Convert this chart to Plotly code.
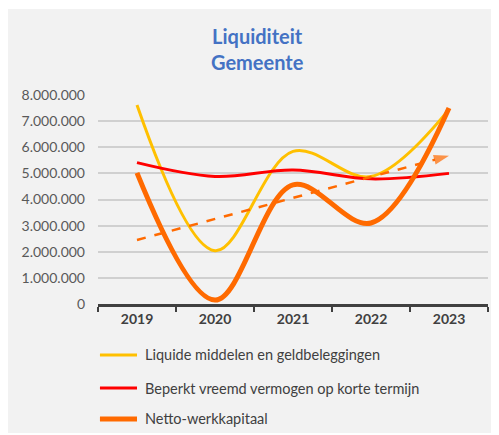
import plotly.graph_objects as go

years = ["2019", "2020", "2021", "2022", "2023"]
liquide = [7620000, 2040000, 5840000, 4880000, 7450000]
beperkt = [5410000, 4880000, 5130000, 4790000, 5000000]
netto = [5020000, 150000, 4560000, 3100000, 7500000]
trend_years = ["2019", "2023"]
trend_values = [2450000, 5670000]

names = ["Liquide middelen en geldbeleggingen",
         "Beperkt vreemd vermogen op korte termijn",
         "Netto-werkkapitaal"]
colors = ["#FFC000", "#FF0000", "#FF6A00"]
widths = [3, 3, 5]

FONT = "Lato"
GREY_TXT = "#595959"

fig = go.Figure()

for vals, name, col, w in zip([liquide, beperkt, netto], names, colors, widths):
    fig.add_trace(go.Scatter(
        x=years, y=vals, name=name, mode="lines",
        line=dict(color=col, width=w, shape="spline"),
    ))

# trendline with arrow head
fig.add_trace(go.Scatter(
    x=trend_years, y=trend_values, mode="lines+markers", name="Trend",
    line=dict(color="#FF6A00", width=2.5, dash="dash"),
    marker=dict(symbol="arrow", angleref="previous", size=[0, 16],
                color="#FF6A00", line=dict(width=0))
))

# grey chart panel
fig.add_shape(type="rect", xref="paper", yref="paper",
              x0=-0.2333, x1=1.05, y0=-0.617, y1=1.4115,
              fillcolor="#F2F2F2", line=dict(width=0), layer="below")

# title
fig.add_annotation(text="<b>Liquiditeit<br>Gemeente</b>", xref="paper", yref="paper",
                   x=0.408, y=1.218, xanchor="center", yanchor="middle", showarrow=False,
                   font=dict(family=FONT, size=20, color="#4472C4"))

# legend drawn by hand below the axis
legend_y = [-0.244, -0.402, -0.550]
for name, col, w, ly in zip(names, colors, widths, legend_y):
    fig.add_shape(type="line", xref="paper", yref="paper",
                  x0=0.005, x1=0.1, y0=ly, y1=ly,
                  line=dict(color=col, width=w))
    fig.add_annotation(text=name, xref="paper", yref="paper", x=0.1154, y=ly,
                       xanchor="left", yanchor="middle", showarrow=False,
                       font=dict(family=FONT, size=14.5, color="#404040"))

# page body has an 8px margin, so the figure is sized and offset for it
fig.update_layout(
    width=491, height=427,
    margin=dict(l=90, r=11, t=87, b=131),
    paper_bgcolor="white", plot_bgcolor="#F2F2F2",
    separators=",.",
    font=dict(family=FONT, size=14, color=GREY_TXT),
    showlegend=False,
    xaxis=dict(
        type="category", showgrid=False, showline=True, linecolor="#404040", linewidth=3,
        ticks="outside", tickson="boundaries", ticklen=5, tickwidth=2, tickcolor="#404040",
        tickfont=dict(family=FONT, size=14, color="#404040", weight="bold"),
        range=[-0.5, 4.5], fixedrange=True, automargin=False,
    ),
    yaxis=dict(
        range=[0, 8000000], dtick=1000000, tickformat=",.0f",
        showgrid=True, gridcolor="#D0D0D0", gridwidth=2,
        zeroline=False, showline=False, ticks="",
        ticklabelstandoff=12, automargin=False,
        tickfont=dict(family=FONT, size=14, color=GREY_TXT),
    ),
)

fig.write_html("out.html")
